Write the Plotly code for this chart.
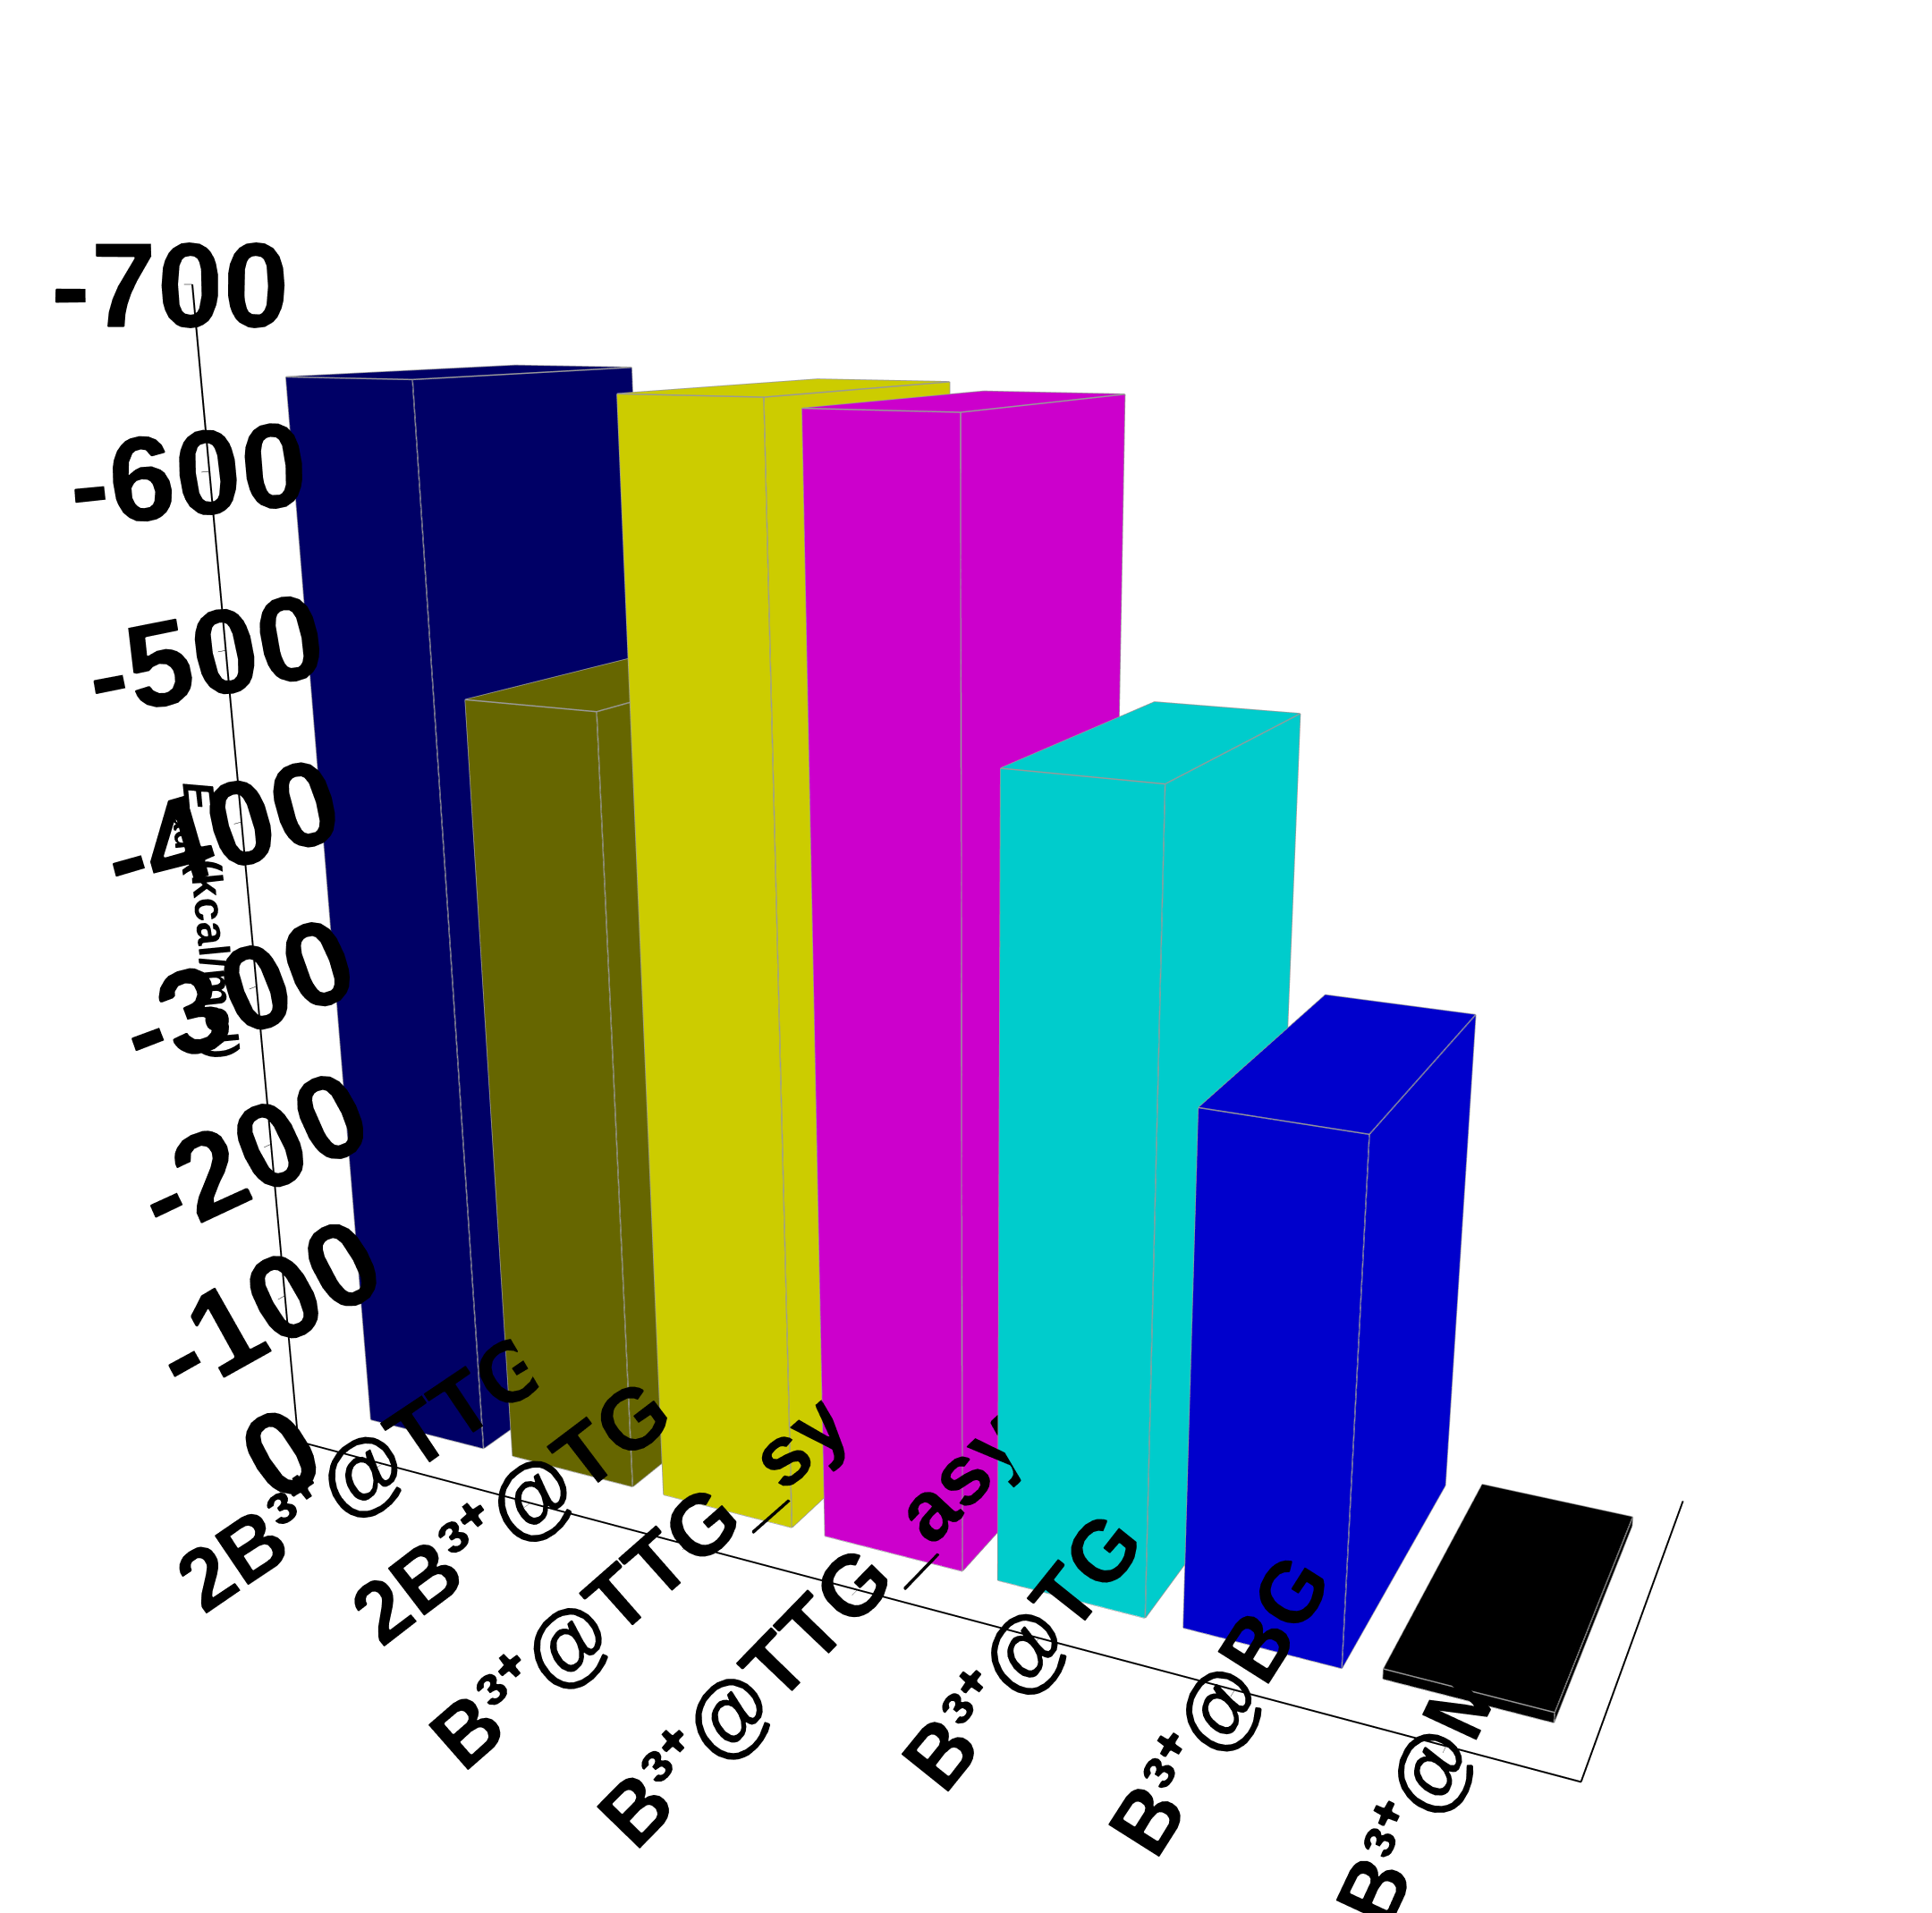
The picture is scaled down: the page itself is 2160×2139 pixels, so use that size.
import plotly.graph_objects as go

categories = ["2B³⁺@TTG", "2B³⁺@TG", "B³⁺@TTG_sym", "B³⁺@TTG_asym", "B³⁺@TG", "B³⁺@BG", "B³⁺@MG"]
values = [-650, -475, -645, -640, -465, -300, -6]
colors = ["#000080", "#808000", "#FFFF00", "#FF00FF", "#00FFFF", "#0000FF", "#000000"]
zticks = [0, -100, -200, -300, -400, -500, -600, -700]

fig = go.Figure()
hw, d0, d1 = 0.4, 0.0, 1.0
I = [0, 0, 4, 4, 0, 0, 3, 3, 0, 0, 1, 1]
J = [1, 2, 5, 6, 1, 5, 2, 6, 3, 7, 2, 6]
K = [2, 3, 6, 7, 5, 4, 6, 7, 7, 4, 6, 5]
for i, (v, c) in enumerate(zip(values, colors)):
    x0, x1 = i - hw, i + hw
    xs = [x0, x1, x1, x0, x0, x1, x1, x0]
    ys = [d0, d0, d1, d1, d0, d0, d1, d1]
    zs = [0, 0, 0, 0, v, v, v, v]
    fig.add_trace(go.Mesh3d(x=xs, y=ys, z=zs, i=I, j=J, k=K, color=c, flatshading=True,
                            lighting=dict(ambient=0.8, diffuse=0.3, specular=0.0, fresnel=0.0),
                            lightposition=dict(x=-1000, y=-10000, z=2000), hoverinfo="skip"))
    edges = [(0,1),(1,2),(2,3),(3,0),(4,5),(5,6),(6,7),(7,4),(0,4),(1,5),(2,6),(3,7)]
    ex, ey, ez = [], [], []
    for a, b in edges:
        ex += [xs[a], xs[b], None]; ey += [ys[a], ys[b], None]; ez += [zs[a], zs[b], None]
    fig.add_trace(go.Scatter3d(x=ex, y=ey, z=ez, mode="lines", line=dict(color="#999999", width=3),
                               hoverinfo="skip", showlegend=False))

font = dict(family="Liberation Sans, Arial", size=34, color="black")
fig.update_layout(
    width=2160, height=2139, paper_bgcolor="white", showlegend=False,
    margin=dict(l=0, r=0, t=0, b=0),
    scene=dict(
        xaxis=dict(tickvals=list(range(len(categories))), ticktext=["<b>%s</b>" % c for c in categories], title="",
                   showgrid=False, showline=True, linecolor="black", linewidth=4,
                   showbackground=False, tickfont=font, range=[-0.6, 6.6], ticks="outside", ticklen=10),
        yaxis=dict(showticklabels=False, title="", showgrid=False, showline=True,
                   linecolor="black", linewidth=4, showbackground=False, range=[-0.2, 1.2]),
        zaxis=dict(tickvals=zticks, ticktext=["<b>%d</b>" % t for t in zticks], range=[0, -700],
                   title=dict(text="<b><i>E</i><sub>ad</sub> (kcal/mol)</b>", font=dict(family="Liberation Sans", size=48, color="black")),
                   showgrid=False, showline=True, linecolor="black", linewidth=4,
                   showbackground=False, tickfont=dict(family="Liberation Sans", size=40, color="black"),
                   ticks="outside", tickcolor="black", ticklen=20),
        aspectmode="manual", aspectratio=dict(x=1.6, y=0.6, z=1.4),
        camera=dict(eye=dict(x=1.1, y=-2.3, z=0.7), center=dict(x=0, y=0, z=-0.05),
                    projection=dict(type="perspective")),
    ),
)
fig.write_html("out.html")
